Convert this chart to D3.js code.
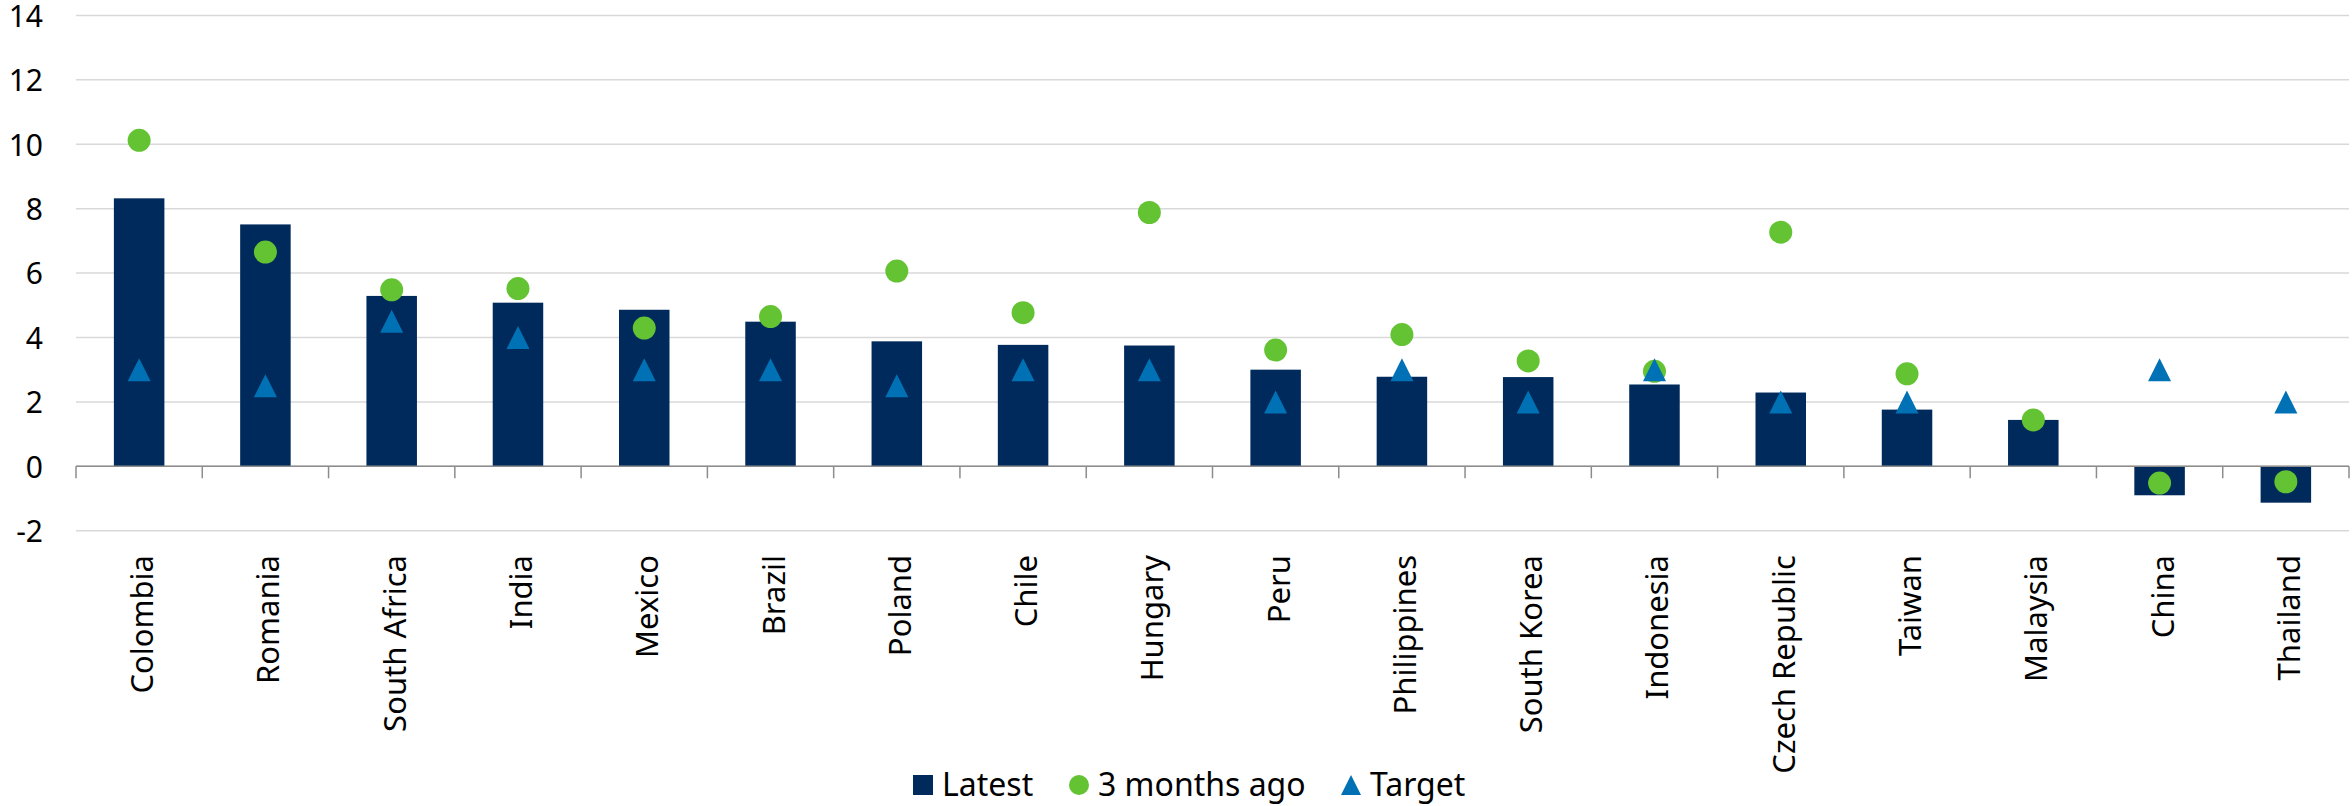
<!DOCTYPE html>
<html>
<head>
<meta charset="utf-8">
<script src="https://cdn.jsdelivr.net/npm/d3@7"></script>
<style>
  html, body { margin: 0; padding: 0; background: #ffffff; }
  svg { display: block; }
  text { font-family: "Noto Sans", "Open Sans", sans-serif; fill: #000; }
</style>
</head>
<body>
<svg id="chart" width="2352" height="806"></svg>
<script>
// Policy rates: latest, three months ago, and central-bank target (%)
const countries = ["Colombia", "Romania", "South Africa", "India", "Mexico", "Brazil",
  "Poland", "Chile", "Hungary", "Peru", "Philippines", "South Korea", "Indonesia",
  "Czech Republic", "Taiwan", "Malaysia", "China", "Thailand"];
const latest = [8.32, 7.51, 5.29, 5.08, 4.86, 4.49, 3.88, 3.77, 3.75, 3.00, 2.78, 2.77,
  2.54, 2.29, 1.76, 1.44, -0.90, -1.13];
const threeMonthsAgo = [10.12, 6.65, 5.48, 5.52, 4.29, 4.65, 6.06, 4.77, 7.88, 3.61, 4.09,
  3.27, 2.95, 7.27, 2.87, 1.44, -0.52, -0.48];
const target = [3.0, 2.5, 4.5, 4.0, 3.0, 3.0, 2.5, 3.0, 3.0, 2.0, 3.0, 2.0, 3.0, 2.0, 2.0,
  null, 3.0, 2.0];
const yTicks = [-2, 0, 2, 4, 6, 8, 10, 12, 14];
const legendLabels = ["Latest", "3 months ago", "Target"];

const colors = { bar: "#002A5C", dot: "#64C333", tri: "#0071B5", grid: "#D9D9D9", axis: "#8C8C8C" };

const svg = d3.select("#chart");
const plot = { left: 76, right: 2349, top: 15.4, bottom: 530.7 };

const x = d3.scaleBand().domain(countries).range([plot.left, plot.right]).padding(0);
const y = d3.scaleLinear().domain([-2, 14]).range([plot.bottom, plot.top]);
const bw = x.bandwidth();

// Horizontal gridlines
svg.append("g").selectAll("line").data(yTicks).join("line")
  .attr("x1", plot.left).attr("x2", plot.right)
  .attr("y1", d => y(d)).attr("y2", d => y(d))
  .attr("stroke", colors.grid).attr("stroke-width", 1.5);

// Y-axis labels
const yAxis = d3.axisLeft(y).tickValues(yTicks).tickSize(0).tickPadding(0)
  .tickFormat(d => d < 0 ? "-" + Math.abs(d) : String(d));
svg.append("g").attr("transform", "translate(43,0)").call(yAxis)
  .call(g => g.select(".domain").remove())
  .call(g => g.selectAll("text")
    .attr("font-size", 30).attr("font-family", "'Noto Sans', sans-serif")
    .attr("fill", "#000").attr("dy", "0.36em"));

// Bars for latest rate
svg.append("g").selectAll("rect").data(countries).join("rect")
  .attr("x", (d) => x(d) + bw * 0.3)
  .attr("width", bw * 0.4)
  .attr("y", (d, i) => y(Math.max(0, latest[i])))
  .attr("height", (d, i) => Math.abs(y(latest[i]) - y(0)))
  .attr("fill", colors.bar);

// Category axis at zero with boundary ticks
const xAxisG = svg.append("g");
xAxisG.append("line")
  .attr("x1", plot.left).attr("x2", plot.right).attr("y1", y(0)).attr("y2", y(0))
  .attr("stroke", colors.axis).attr("stroke-width", 1.5);
const boundaries = countries.map(c => x(c)).concat([plot.right]);
xAxisG.selectAll("line.tick").data(boundaries).join("line")
  .attr("class", "tick")
  .attr("x1", d => d).attr("x2", d => d)
  .attr("y1", y(0)).attr("y2", y(0) + 12)
  .attr("stroke", colors.axis).attr("stroke-width", 1.5);

// Category labels, rotated
svg.append("g").selectAll("text").data(countries).join("text")
  .attr("transform", d => `translate(${x(d) + bw / 2 + 14},555) rotate(-90)`)
  .attr("text-anchor", "end")
  .attr("font-size", 31)
  .text(d => d);

// 3 months ago markers
svg.append("g").selectAll("circle").data(countries).join("circle")
  .attr("cx", d => x(d) + bw / 2)
  .attr("cy", (d, i) => y(threeMonthsAgo[i]))
  .attr("r", 11.5)
  .attr("fill", colors.dot);

// Target markers
const tri = (cx, cy, s) => `M${cx},${cy - s}L${cx + s},${cy + s}L${cx - s},${cy + s}Z`;
svg.append("g").selectAll("path")
  .data(countries.map((c, i) => ({ c, v: target[i] })).filter(d => d.v !== null))
  .join("path")
  .attr("d", d => tri(x(d.c) + bw / 2, y(d.v), 11.5))
  .attr("fill", colors.tri);

// Legend
const lg = svg.append("g").attr("transform", "translate(0,785)");
lg.append("rect").attr("x", 913).attr("y", -10).attr("width", 20).attr("height", 20).attr("fill", colors.bar);
lg.append("text").attr("x", 942).attr("dy", "0.35em").attr("font-size", 32).text(legendLabels[0]);
lg.append("circle").attr("cx", 1079).attr("cy", 0).attr("r", 10).attr("fill", colors.dot);
lg.append("text").attr("x", 1098).attr("dy", "0.35em").attr("font-size", 32).text(legendLabels[1]);
lg.append("path").attr("d", tri(1351, 0, 10)).attr("fill", colors.tri);
lg.append("text").attr("x", 1370).attr("dy", "0.35em").attr("font-size", 32).text(legendLabels[2]);
</script>
</body>
</html>
